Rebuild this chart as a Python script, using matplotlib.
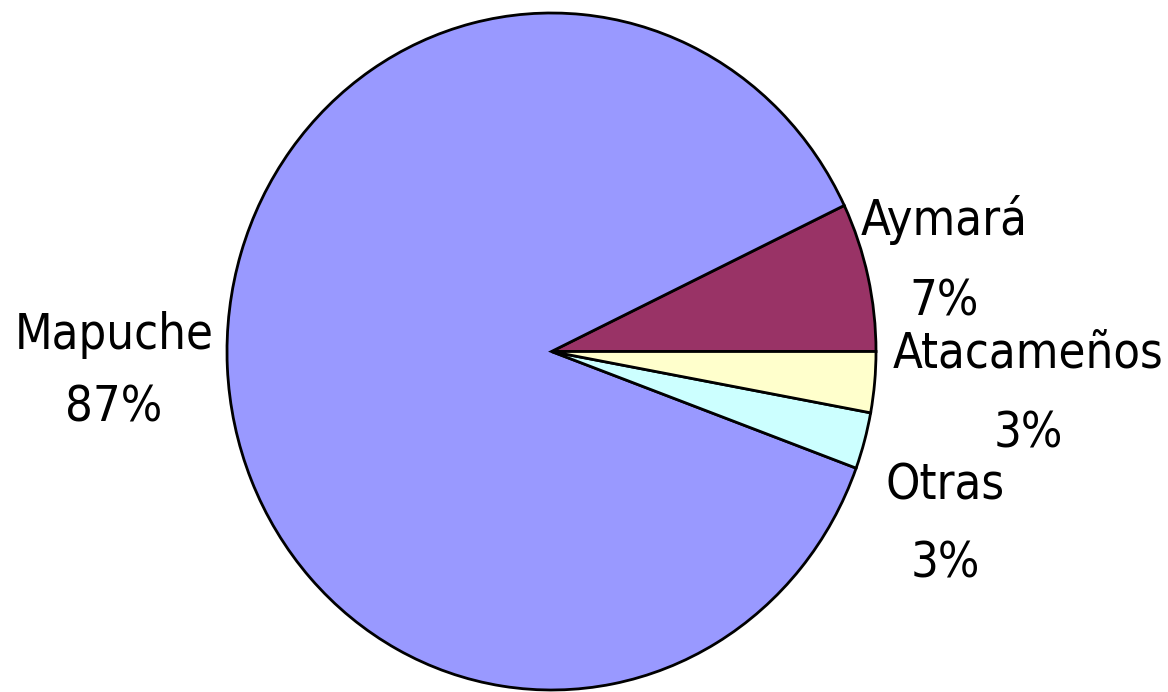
import matplotlib
matplotlib.use("Agg")
import matplotlib.pyplot as plt

# données du graphique (sens anti-horaire depuis 0°)
categories = ["Aymará", "Mapuche", "Otras", "Atacameños"]
valeurs = [7.1, 87.3, 2.7, 2.9]
couleurs = ["#993366", "#9999FF", "#CCFFFF", "#FFFFCC"]

W, H = 1168, 692
fig = plt.figure(figsize=(W / 100, H / 100), dpi=100)

# axes placé pour obtenir l'ellipse de la référence
ax = fig.add_axes([227 / W, 2 / H, 649 / W, 677 / H])
wedges, _ = ax.pie(valeurs, colors=couleurs, startangle=0, counterclock=True,
                   wedgeprops=dict(edgecolor="black", linewidth=2))
for w in wedges:
    w.set_clip_on(False)
ax.set_aspect("auto")
ax.set_xlim(-1, 1)
ax.set_ylim(-1, 1)
ax.axis("off")

# positions des étiquettes (pixels: centre x, ligne de base y nom, ligne de base y pourcentage)
positions = {
    "Mapuche": (114, 349, 422),
    "Aymará": (944, 235, 315),
    "Atacameños": (1028, 368, 447),
    "Otras": (945, 500, 578),
}
police = dict(family="DejaVu Sans", stretch="condensed", size=35, color="black")
for cat, val in zip(categories, valeurs):
    x, y1, y2 = positions[cat]
    fig.text(x / W, 1 - y1 / H, cat, ha="center", va="baseline", **police)
    fig.text(x / W, 1 - y2 / H, f"{round(val)}%", ha="center", va="baseline", **police)

fig.savefig("out.png", dpi=100)
